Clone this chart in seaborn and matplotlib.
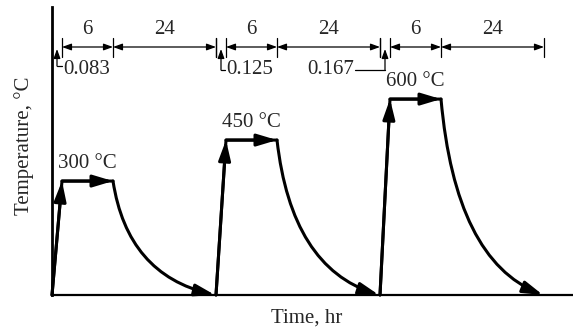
import matplotlib
matplotlib.use("Agg")
import matplotlib.pyplot as plt
import numpy as np
import pandas as pd
import seaborn as sns
from matplotlib.path import Path
from matplotlib.patches import FancyArrowPatch

# ---------------- data ----------------
temps_c = [300, 450, 600]
temp_labels = ["300 °C", "450 °C", "600 °C"]
ramp_hr = ["0.083", "0.125", "0.167"]
hold_hr = ["6", "6", "6"]
cool_hr = ["24", "24", "24"]
x_label = "Time, hr"
y_label = "Temperature, °C"

# ---------------- layout (schematic, not to scale) ----------------
W, H = 573, 333
AX_L, AX_R, AX_B, AX_T = 52, 573, 295, 7      # axes box in pixels
SEG = dict(ramp=10, hold=51, cool=102, gap=1)  # schematic segment widths
PERIOD = sum(SEG.values())
BASE, YTOP = -117, 937                         # y-limits of schematic scale
FS = 15
LW_MAIN = 2.2
LW_THIN = 0.9

sns.set_theme(style="white")
plt.rcParams["font.family"] = ["Liberation Serif", "DejaVu Serif"]

fig = plt.figure(figsize=(W / 100, H / 100), dpi=100)
ax = fig.add_axes([AX_L / W, 1 - AX_B / H, (AX_R - AX_L) / W, (AX_B - AX_T) / H])
ax.set_xlim(0, AX_R - AX_L)
ax.set_ylim(BASE, YTOP)
sns.despine(ax=ax)
ax.spines["left"].set_linewidth(2.0)
ax.spines["bottom"].set_linewidth(1.6)
for s in ("left", "bottom"):
    ax.spines[s].set_color("black")
ax.set_xticks([])
ax.set_yticks([])


def fy(py):
    return (AX_B - py) / (AX_B - AX_T)


xt = ax.get_xaxis_transform()

# ---------------- main profile ----------------
rows = []
for c, T in enumerate(temps_c):
    s = c * PERIOD
    rows += [dict(cycle=c, t=s, T=BASE),
             dict(cycle=c, t=s + SEG["ramp"], T=T),
             dict(cycle=c, t=s + SEG["ramp"] + SEG["hold"], T=T)]
df = pd.DataFrame(rows)
sns.lineplot(data=df, x="t", y="T", units="cycle", estimator=None, sort=False,
             color="black", lw=LW_MAIN, ax=ax, legend=False, clip_on=False)
ax.set_xlabel("")
ax.set_ylabel("")

big = dict(arrowstyle="-|>,head_length=0.6,head_width=0.18", mutation_scale=20,
           lw=LW_MAIN, color="black", shrinkA=0, shrinkB=0)
small = dict(arrowstyle="-|>,head_length=0.55,head_width=0.2", mutation_scale=10,
             lw=LW_THIN, color="black", shrinkA=0, shrinkB=0)
small2 = dict(arrowstyle="<|-|>,head_length=0.55,head_width=0.2", mutation_scale=10,
              lw=LW_THIN, color="black", shrinkA=0, shrinkB=0)

RAMP_LY = [66, 70, 70]
RAMP_SIDE = [1, 1, -1]
RAMP_LEAD = [5, 4, 30]

for c, T in enumerate(temps_c):
    s = c * PERIOD
    r_end = s + SEG["ramp"]
    h_end = r_end + SEG["hold"]
    c_end = h_end + SEG["cool"]
    nxt = s + PERIOD

    # ramp arrow and hold arrow
    a1 = ax.annotate("", xy=(r_end, T), xytext=(s, BASE), arrowprops=big, annotation_clip=False)
    a2 = ax.annotate("", xy=(h_end, T), xytext=(r_end, T), arrowprops=big, annotation_clip=False)
    a1.arrow_patch.set_clip_on(False)
    a2.arrow_patch.set_clip_on(False)

    # cooling curve
    ctrl = (h_end + 0.14 * SEG["cool"], T - 0.82 * (T - BASE))
    p = Path([(h_end, T), ctrl, (c_end, BASE)], [Path.MOVETO, Path.CURVE3, Path.CURVE3])
    fa = FancyArrowPatch(path=p, arrowstyle="-|>,head_length=0.6,head_width=0.18",
                         mutation_scale=20, lw=LW_MAIN, color="black",
                         transform=ax.transData, clip_on=False)
    ax.add_patch(fa)

    # temperature label
    ax.annotate(temp_labels[c], xy=((r_end + h_end) / 2, T), xytext=(0, 13),
                textcoords="offset points", ha="center", va="center", fontsize=FS)

    # dimension ticks
    for xv in (s, r_end, h_end, nxt):
        ax.plot([xv, xv], [fy(38), fy(57)], transform=xt, color="black",
                lw=LW_THIN, clip_on=False)

    # dimension arrows
    ax.annotate("", xy=(h_end, fy(47)), xytext=(r_end, fy(47)), xycoords=xt,
                textcoords=xt, arrowprops=small2, annotation_clip=False)
    ax.annotate("", xy=(nxt, fy(47)), xytext=(h_end, fy(47)), xycoords=xt,
                textcoords=xt, arrowprops=small2, annotation_clip=False)
    ax.text((r_end + h_end) / 2, fy(30), hold_hr[c], transform=xt, ha="center",
            va="center", fontsize=FS)
    ax.text((h_end + nxt) / 2, fy(30), cool_hr[c], transform=xt, ha="center",
            va="center", fontsize=FS)

    # ramp-duration call-out
    xm = s + SEG["ramp"] / 2
    ly = RAMP_LY[c]
    ax.annotate("", xy=(xm, fy(49)), xytext=(xm, fy(ly)), xycoords=xt,
                textcoords=xt, arrowprops=small, annotation_clip=False)
    side = RAMP_SIDE[c]
    lead = RAMP_LEAD[c]
    ax.plot([xm, xm + side * lead], [fy(ly), fy(ly)], transform=xt,
            color="black", lw=LW_THIN, clip_on=False)
    ax.text(xm + side * (lead + 1), fy(70), ramp_hr[c], transform=xt,
            ha="left" if side > 0 else "right", va="center", fontsize=FS)

# axis labels
fig.text(307 / W, 1 - 318 / H, x_label, ha="center", va="center", fontsize=FS)
fig.text(24 / W, 1 - 146 / H, y_label, ha="center", va="center", rotation=90,
         fontsize=FS)

fig.savefig("out.png", dpi=100)
